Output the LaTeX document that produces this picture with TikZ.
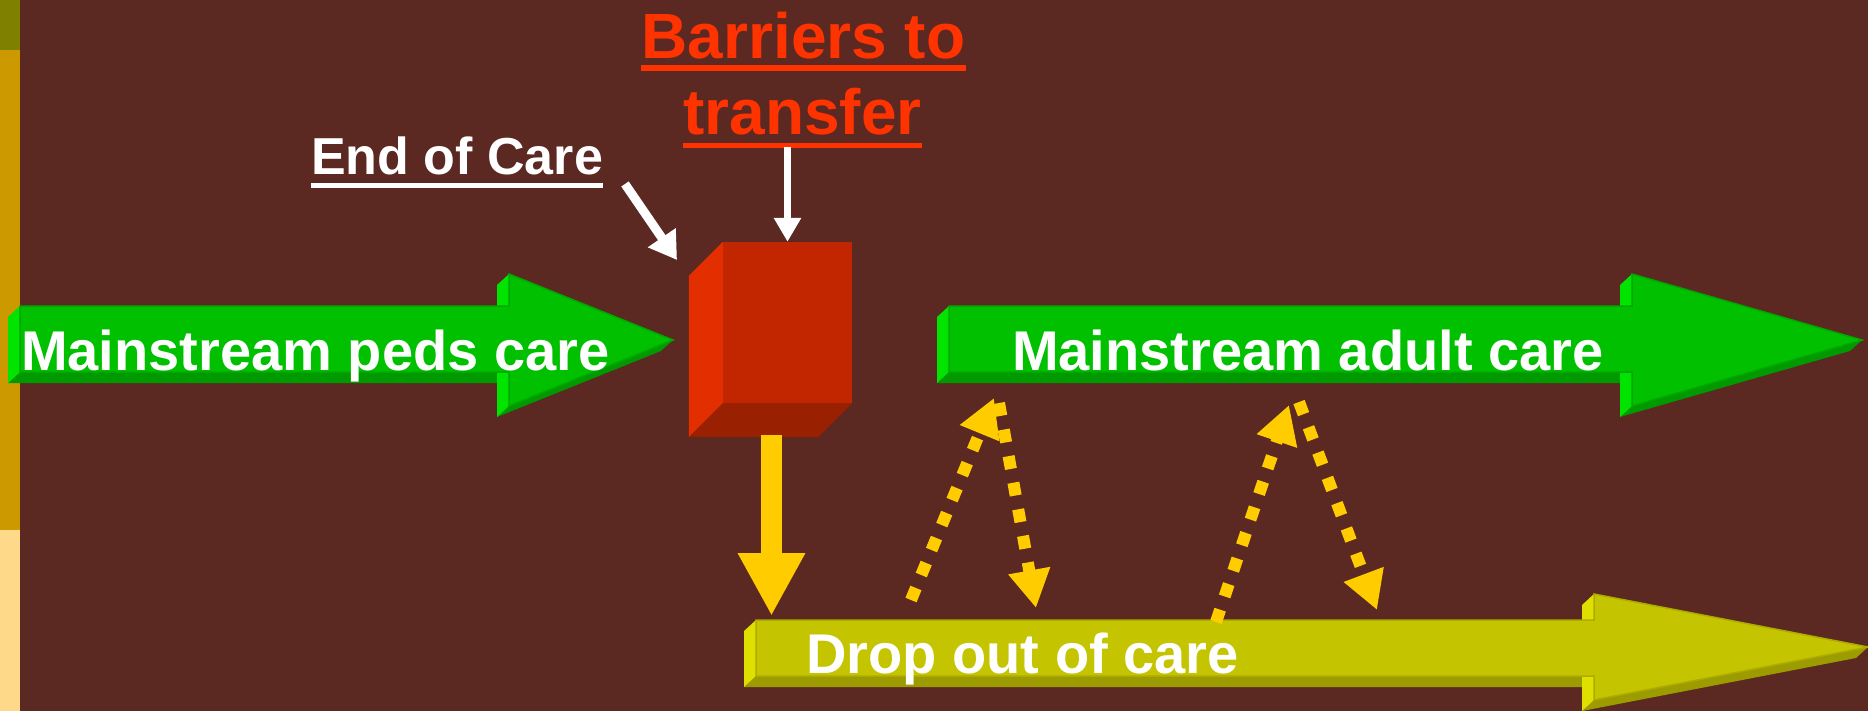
\documentclass[tikz,border=0pt]{standalone}
\usepackage{fontspec}
\setmainfont{Liberation Sans}
\usetikzlibrary{arrows.meta}
\definecolor{bg}{HTML}{5B2822}
\definecolor{stripA}{HTML}{808000}
\definecolor{stripB}{HTML}{CC9900}
\definecolor{stripC}{HTML}{FFD98A}
\definecolor{gmain}{HTML}{00C000}
\definecolor{glight}{HTML}{00E400}
\definecolor{gdarkc}{HTML}{009900}
\definecolor{gedge}{HTML}{00A800}
\definecolor{ymain}{HTML}{C4C400}
\definecolor{ylight}{HTML}{E0E000}
\definecolor{ydarkc}{HTML}{9C9C00}
\definecolor{yedge}{HTML}{ACAC00}
\definecolor{boxfront}{HTML}{C12600}
\definecolor{boxleft}{HTML}{E32F00}
\definecolor{boxbottom}{HTML}{992000}
\definecolor{gold}{HTML}{FFCC00}
\definecolor{redtxt}{HTML}{FF3300}
\tikzset{
  gdark/.style={fill=gdarkc}, glt/.style={fill=glight}, gfront/.style={fill=gmain,draw=gedge,line width=1.5bp},
  ydark/.style={fill=ydarkc}, ylt/.style={fill=ylight}, yfront/.style={fill=ymain,draw=yedge,line width=1.5bp},
  bigtext/.style={text=white,font=\fontsize{56bp}{60bp}\selectfont\bfseries,inner sep=0pt,anchor=base west},
  labeltext/.style={text=white,font=\fontsize{52bp}{60bp}\selectfont\bfseries,inner sep=0pt,anchor=base west},
  redtext/.style={text=redtxt,font=\fontsize{64bp}{70bp}\selectfont\bfseries,inner sep=0pt,anchor=base},
  whitearr/.style={draw=white,line width=8bp,-{Triangle[length=24bp,width=26bp]}},
  dotarr/.style={draw=gold,line width=12bp,dash pattern=on 13bp off 14bp,-{Triangle[length=38bp,width=40bp]}},
}
% #1 front left x, #2 shaft top, #3 shaft bottom, #4 head base x, #5 head top, #6 head bottom, #7 tip x, #8 tip y, #9 colour prefix
\newcommand\threedarrow[9]{%
  \fill[#9dark] (#1,#3) -- (#4,#3) -- ({#4-12},{#3+11}) -- ({#1-12},{#3+11}) -- cycle;
  \fill[#9dark] (#4,#6) -- (#7,#8) -- ({#7-12},{#8+11}) -- ({#4-12},{#6+11}) -- cycle;
  \fill[#9lt] (#1,#2) -- (#1,#3) -- ({#1-12},{#3+11}) -- ({#1-12},{#2+11}) -- cycle;
  \fill[#9lt] (#4,#5) -- (#4,#6) -- ({#4-12},{#6+11}) -- ({#4-12},{#5+11}) -- cycle;
  \filldraw[#9front] (#1,#2) -- (#4,#2) -- (#4,#5) -- (#7,#8) -- (#4,#6) -- (#4,#3) -- (#1,#3) -- cycle;
}
\begin{document}
\begin{tikzpicture}[x=1bp,y=-1bp]
\useasboundingbox (0,0) rectangle (1868,711);
\fill[bg] (0,0) rectangle (1868,711);
\fill[stripA] (0,0) rectangle (20,50);
\fill[stripB] (0,50) rectangle (20,530);
\fill[stripC] (0,530) rectangle (20,711);

% big 3D arrows
\threedarrow{20}{306}{372}{509}{274}{406}{673}{340}{g}
\threedarrow{949}{306}{372}{1632}{274}{406}{1862}{340}{g}
\threedarrow{756}{620}{676}{1594}{594}{700}{1868}{647}{y}

\node[bigtext] (peds) at (21,370) {Mainstream peds care};
\node[bigtext] (adult) at (1012,370) {Mainstream adult care};
\node[bigtext] (drop) at (806,673) {Drop out of care};

% box
\node[fill=boxfront,minimum width=129bp,minimum height=161bp,inner sep=0pt] (box) at (787.5,322.5) {};
\fill[boxleft] (box.north west) -- (box.south west) -- ([shift={(-34,34)}]box.south west) -- ([shift={(-34,34)}]box.north west) -- cycle;
\fill[boxbottom] (box.south west) -- (box.south east) -- ([shift={(-34,34)}]box.south east) -- ([shift={(-34,34)}]box.south west) -- cycle;

% labels
\node[labeltext] (eoc) at (311,175) {End of Care};
\fill[white] ([yshift=-8bp]eoc.base west) rectangle ([yshift=-13bp]eoc.base east);
\node[redtext] (bar1) at (803.5,59) {Barriers to};
\node[redtext] (bar2) at (802.5,135) {transfer};
\fill[redtxt] ([yshift=-6bp]bar1.base west) rectangle ([yshift=-12bp]bar1.base east);
\fill[redtxt] ([yshift=-8bp]bar2.base west) rectangle ([yshift=-13bp]bar2.base east);

% white arrows
\coordinate (eocs) at (625,184);
\coordinate (eoct) at (677,260);
\draw[whitearr,line width=9bp,-{Triangle[length=27bp,width=32bp]}] (eocs) -- (eoct);
\coordinate (bars) at (787.5,147);
\draw[whitearr,line width=7.5bp] (bars) -- (box.north);

% yellow down arrow
\coordinate (ys) at (771.5,435);
\coordinate (ye) at (771.5,616);
\draw[draw=gold,line width=21bp,-{Triangle[length=63bp,width=63bp]}] (ys) -- (ye);

% dotted arrows
\coordinate (d1s) at (911,600); \coordinate (d1e) at (994,398);
\coordinate (d2s) at (999,403); \coordinate (d2e) at (1036,608);
\coordinate (d3s) at (1216,622); \coordinate (d3e) at (1289,405);
\coordinate (d4s) at (1299,402); \coordinate (d4e) at (1377,610);
\draw[dotarr] (d1s) -- (d1e);
\draw[dotarr] (d2s) -- (d2e);
\draw[dotarr] (d3s) -- (d3e);
\draw[dotarr] (d4s) -- (d4e);
\end{tikzpicture}
\end{document}
